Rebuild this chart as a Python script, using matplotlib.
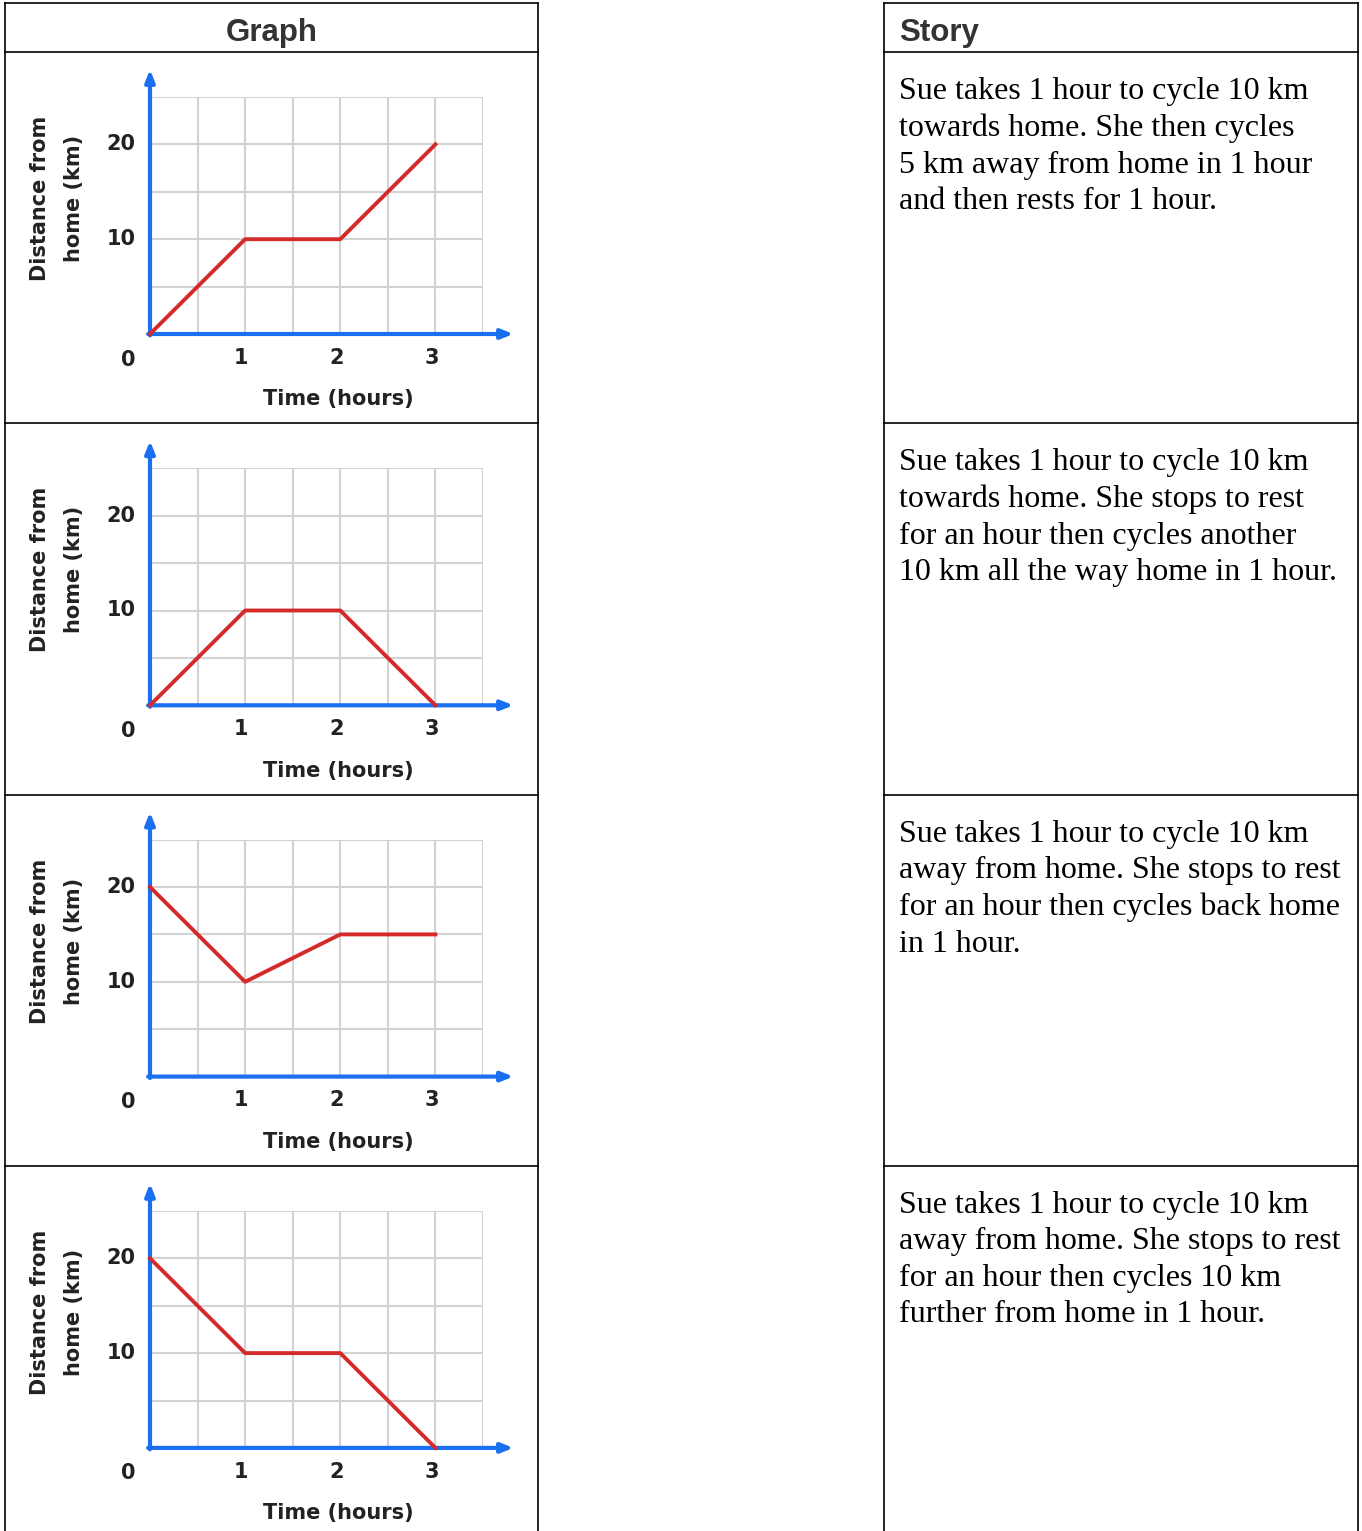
import numpy as np
import matplotlib.pyplot as plt

# distance-time stories for Sue
times = [0, 1, 2, 3]
dist_a = [0, 10, 10, 20]
dist_b = [0, 10, 10, 0]
dist_c = [20, 10, 15, 15]
dist_d = [20, 10, 10, 0]
all_dist = [dist_a, dist_b, dist_c, dist_d]

x_ticks = [1, 2, 3]
y_ticks = [10, 20]

stories = [
    "Sue takes 1 hour to cycle 10 km\ntowards home. She then cycles\n5 km away from home in 1 hour\nand then rests for 1 hour.",
    "Sue takes 1 hour to cycle 10 km\ntowards home. She stops to rest\nfor an hour then cycles another\n10 km all the way home in 1 hour.",
    "Sue takes 1 hour to cycle 10 km\naway from home. She stops to rest\nfor an hour then cycles back home\nin 1 hour.",
    "Sue takes 1 hour to cycle 10 km\naway from home. She stops to rest\nfor an hour then cycles 10 km\nfurther from home in 1 hour.",
]

W, H = 1362, 1531
fig = plt.figure(figsize=(W / 100, H / 100), dpi=100)
fig.patch.set_facecolor('white')

blue = '#1a6ff0'
red = '#d42a2a'
grid_c = '#d3d3d3'
row_h = 371.3

def fx(px):
    return px / W

def fy(py):
    return 1 - py / H

# table borders
bg = fig.add_axes([0, 0, 1, 1])
bg.set_xlim(0, W)
bg.set_ylim(H, 0)
bg.axis('off')
for x0, x1 in [(5, 538), (884, 1358)]:
    bg.plot([x0, x0], [3, H], color='black', lw=1.2)
    bg.plot([x1, x1], [3, H], color='black', lw=1.2)
    for yy in [3, 52] + [52 + row_h * (i + 1) for i in range(3)]:
        bg.plot([x0, x1], [yy, yy], color='black', lw=1.2)

bg.text(272, 33, "Graph", ha='center', va='center', fontsize=22.5, fontweight='bold',
        color='#333333', family='Liberation Sans')
bg.text(899, 33, "Story", ha='left', va='center', fontsize=22.5, fontweight='bold',
        color='#333333', family='Liberation Sans')

for i, (d, story) in enumerate(zip(all_dist, stories)):
    off = i * row_h
    bg.text(899, 77 + off, story, ha='left', va='top', fontsize=23,
            family='Liberation Serif', linespacing=1.34, color='black')

    ax = fig.add_axes([fx(150), fy(334 + off), fx(483 - 150), (334 - 97) / H])
    ax.set_xlim(0, 3.5)
    ax.set_ylim(0, 25)
    ax.axis('off')
    for gx in np.arange(0.5, 3.51, 0.5):
        ax.plot([gx, gx], [0, 25], color=grid_c, lw=1.5, zorder=1)
    for gy in np.arange(5, 25.1, 5):
        ax.plot([0, 3.5], [gy, gy], color=grid_c, lw=1.5, zorder=1)

    arrow = dict(arrowstyle='-|>,head_length=0.7,head_width=0.28', color=blue,
                 lw=3, shrinkA=0, shrinkB=0)
    ax.annotate('', xy=(3.82, 0), xytext=(-0.02, 0), arrowprops=arrow,
                annotation_clip=False, zorder=3)
    ax.annotate('', xy=(0, 27.9), xytext=(0, -0.15), arrowprops=arrow,
                annotation_clip=False, zorder=3)

    ax.plot(times, d, color=red, lw=2.8, zorder=4, clip_on=False)

    tick_kw = dict(fontsize=15, fontweight='bold', color='#222222', clip_on=False)
    ax.text(-0.23, -2.7, "0", ha='center', va='center', **tick_kw)
    for t in x_ticks:
        ax.text(t - 0.04, -2.5, str(t), ha='center', va='center', **tick_kw)
    for v in y_ticks:
        ax.text(-0.15, v, str(v), ha='right', va='center', **tick_kw)

    ax.text(1.98, -6.9, "Time (hours)", ha='center', va='center', **tick_kw)
    ax.text(-1.16, 14.3, "Distance from", ha='center', va='center', rotation=90, **tick_kw)
    ax.text(-0.8, 14.3, "home (km)", ha='center', va='center', rotation=90, **tick_kw)

fig.savefig('out.png', dpi=100)
